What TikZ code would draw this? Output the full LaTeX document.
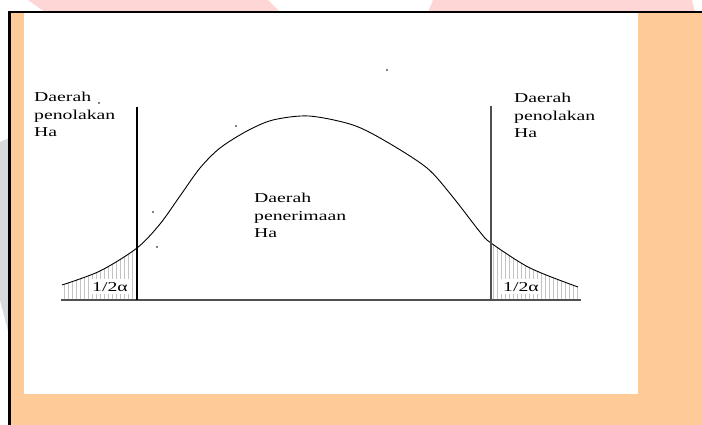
\documentclass[tikz,border=0pt]{standalone}
\usepackage{fontspec}
\newfontfamily\scanfont[FakeStretch=1.45]{Liberation Serif}
\usetikzlibrary{positioning}
\definecolor{wPeach}{HTML}{FECB98}
\definecolor{wPink}{HTML}{FFD6D6}
\definecolor{wGray}{HTML}{D9D9D9}
\definecolor{lineGray}{HTML}{505050}
\definecolor{hatchGray}{HTML}{C4C4C4}

\begin{document}
\begin{tikzpicture}[x=1pt,y=-1pt,
  region/.style={font=\scanfont\fontsize{13.6}{17.5}\selectfont, align=left, anchor=north west, inner sep=0pt},
  alphalabel/.style={font=\scanfont\fontsize{13.6}{16}\selectfont, fill=white, inner xsep=2pt, inner ysep=3pt, anchor=base west},
  hatch/.style={hatchGray, line width=1pt},
  critline/.style={line width=1.4pt}]
  \useasboundingbox (0,0) rectangle (702,425);
  % watermark remains and page frame
  \fill[wPink] (28,0) -- (268,0) -- (280,12) -- (45,12) -- cycle;
  \fill[wPink] (433,0) -- (692,0) -- (695,12) -- (428,12) -- cycle;
  \fill[wGray] (0,142) -- (9,138) -- (9,335) -- (0,300) -- cycle;
  \fill[wPeach] (10,12) rectangle (702,425);
  \fill[white] (24,13) rectangle (638,394);
  \draw[line width=2.5pt] (9.5,425) -- (9.5,12) -- (702,12);

  \coordinate (baseW) at (61,300);
  \coordinate (baseE) at (581,300);
  \coordinate (critL) at (137,300);
  \coordinate (critLtop) at (137,107);
  \coordinate (critR) at (491,300);
  \coordinate (critRtop) at (491,106);

  % shaded tails
  \begin{scope}
    \clip (62,300) -- plot[smooth] coordinates {(62,285) (100,271) (137,248) (160,224) (180,196) (200,168) (220,148) (247,131) (273,120) (309,116) (353,125) (387,142) (427,168) (452,196) (480,232) (491,243) (530,268) (578,287)} -- (578,300) -- cycle;
    \foreach \x in {64,68,...,136}
      \draw[hatch] (\x,300) -- (\x,240);
    \foreach \x in {493,497,...,577}
      \draw[hatch] (\x,300) -- (\x,240);
  \end{scope}

  \node[alphalabel] (alphaL) at (90,291) {1/2α};
  \node[alphalabel] (alphaR) at (501,291) {1/2α};

  \draw[line width=0.9pt] plot[smooth] coordinates {(62,285) (100,271) (137,248) (160,224) (180,196) (200,168) (220,148) (247,131) (273,120) (309,116) (353,125) (387,142) (427,168) (452,196) (480,232) (491,243) (530,268) (578,287)};
  \draw[lineGray, line width=2pt] (baseW) -- (baseE);
  \draw[critline] (critL) -- (critLtop);
  \draw[critline, lineGray] (critR) -- (critRtop);

  \node[region] (rejectL) at (34,92) {Daerah\\penolakan\\Ha};
  \node[region] (rejectR) at (514,93) {Daerah\\penolakan\\Ha};
  \node[region] (accept) at (254,193) {Daerah\\penerimaan\\Ha};

  % stray specks
  \foreach \p in {(387,70),(99,103),(236,126),(153,212),(157,247)}
    \fill \p circle (0.8);
\end{tikzpicture}
\end{document}
